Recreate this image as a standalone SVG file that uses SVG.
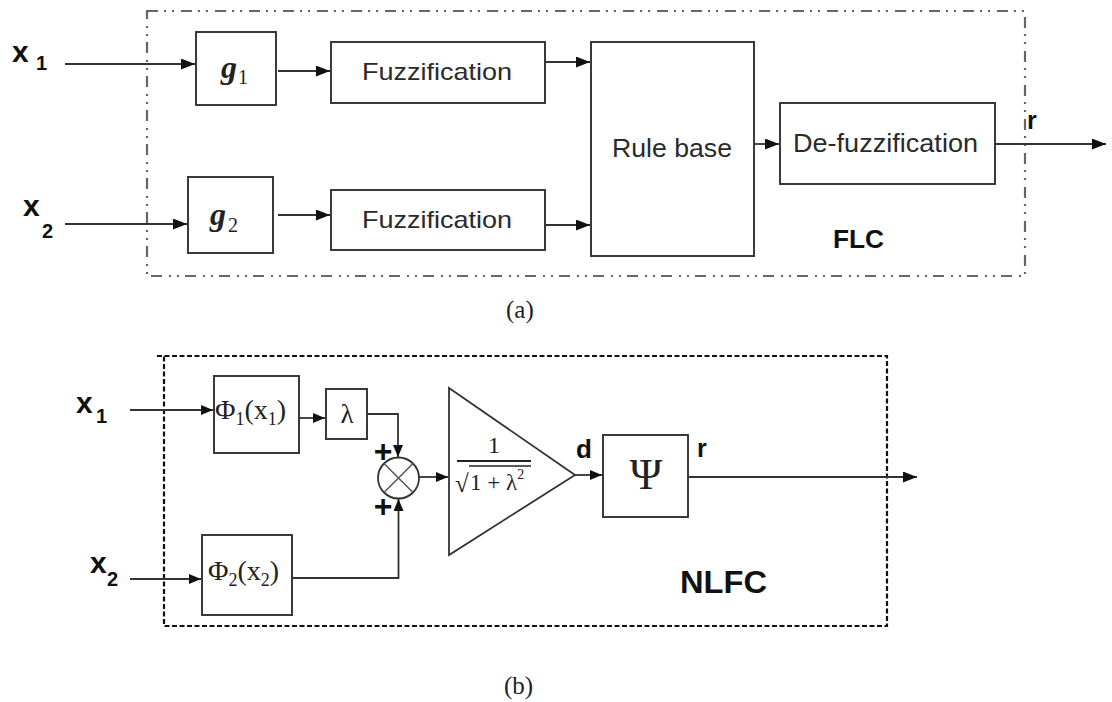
<svg xmlns="http://www.w3.org/2000/svg" width="1112" height="702" viewBox="0 0 1112 702">
<style>
.box{fill:none;stroke:#3a3a3a;stroke-width:2}
.ln{fill:none;stroke:#333;stroke-width:1.8}
.sans{font-family:"Liberation Sans",Arial,sans-serif;fill:#2a2a2a}
.bold{font-family:"Liberation Sans",Arial,sans-serif;font-weight:bold;fill:#111}
.serif{font-family:"Liberation Serif","Times New Roman",serif;fill:#222}
</style>
<defs>
<marker id="ah" markerUnits="userSpaceOnUse" markerWidth="14" markerHeight="11" refX="14" refY="5.5" orient="auto">
<path d="M0,0 L14,5.5 L0,11 z" fill="#111"/>
</marker>
<marker id="ahs" markerUnits="userSpaceOnUse" markerWidth="12" markerHeight="10" refX="12" refY="5" orient="auto">
<path d="M0,0 L12,5 L0,10 z" fill="#111"/>
</marker>
</defs>

<!-- (a) frame -->
<g id="frame-a">
<rect x="147" y="11" width="878" height="265" fill="none" stroke="#666" stroke-width="2.2" stroke-dasharray="11 6 2 6 2 7"/>
</g>

<!-- (a) nodes -->
<g id="label-x1a"><text class="bold" x="12" y="62" font-size="30">x</text><text class="bold" x="36" y="70" font-size="20">1</text></g>
<g id="label-x2a"><text class="bold" x="23" y="216" font-size="30">x</text><text class="bold" x="42" y="238" font-size="20">2</text></g>
<g id="g1"><rect class="box" x="196" y="32" width="80" height="73"/><text class="serif" x="221" y="78" font-size="32" font-style="italic" font-weight="bold">g</text><text class="serif" x="238" y="84" font-size="20">1</text></g>
<g id="g2"><rect class="box" x="188" y="177" width="85" height="76"/><text class="serif" x="210" y="225" font-size="32" font-style="italic" font-weight="bold">g</text><text class="serif" x="228" y="232" font-size="20">2</text></g>
<g id="fuzz1"><rect class="box" x="331" y="42" width="214" height="61"/><text class="sans" x="362" y="80" font-size="24" textLength="150" lengthAdjust="spacingAndGlyphs">Fuzzification</text></g>
<g id="fuzz2"><rect class="box" x="331" y="190" width="214" height="60"/><text class="sans" x="362" y="228" font-size="24" textLength="150" lengthAdjust="spacingAndGlyphs">Fuzzification</text></g>
<g id="rulebase"><rect class="box" x="591" y="42" width="163" height="214"/><text class="sans" x="612" y="157" font-size="25" textLength="120" lengthAdjust="spacingAndGlyphs">Rule base</text></g>
<g id="defuzz"><rect class="box" x="780" y="103" width="215" height="81"/><text class="sans" x="793" y="152" font-size="25" textLength="185" lengthAdjust="spacingAndGlyphs">De-fuzzification</text></g>
<g id="label-r-a"><text class="bold" x="1027" y="129" font-size="25">r</text></g>
<g id="label-flc"><text class="bold" x="833" y="248" font-size="25" textLength="51" lengthAdjust="spacingAndGlyphs">FLC</text></g>
<g id="caption-a"><text class="serif" x="506" y="318" font-size="25" fill="#111">(a)</text></g>

<!-- (b) frame -->
<g id="frame-b">
<path d="M157,356 H887 V626 H164 V356" fill="none" stroke="#111" stroke-width="2.2" stroke-dasharray="5 2.5"/>
</g>

<!-- (b) nodes -->
<g id="label-x1b"><text class="bold" x="76" y="413" font-size="30">x</text><text class="bold" x="96" y="423" font-size="20">1</text></g>
<g id="label-x2b"><text class="bold" x="90" y="573" font-size="30">x</text><text class="bold" x="107" y="586" font-size="20">2</text></g>
<g id="phi1"><rect class="box" x="214" y="376" width="85" height="77"/><text class="serif" x="215" y="419" font-size="28">Φ<tspan font-size="18" dy="6">1</tspan><tspan dy="-6">(x</tspan><tspan font-size="18" dy="6">1</tspan><tspan dy="-6">)</tspan></text></g>
<g id="lambda"><rect class="box" x="326" y="389" width="41" height="50"/><text class="serif" x="347" y="423" font-size="27" text-anchor="middle">λ</text></g>
<g id="phi2"><rect class="box" x="202" y="535" width="90" height="80"/><text class="serif" x="208" y="580" font-size="28">Φ<tspan font-size="18" dy="6">2</tspan><tspan dy="-6">(x</tspan><tspan font-size="18" dy="6">2</tspan><tspan dy="-6">)</tspan></text></g>
<g id="multiplier"><circle cx="398.5" cy="478" r="20.5" fill="none" stroke="#333" stroke-width="1.8"/><path d="M384,463.5 L413,492.5 M413,463.5 L384,492.5" stroke="#555" stroke-width="1.5"/>
<text class="bold" x="383" y="462" font-size="32" text-anchor="middle">+</text><text class="bold" x="383" y="517" font-size="32" text-anchor="middle">+</text></g>
<g id="gain"><path d="M449,388 L575,475 L449,555 Z" fill="none" stroke="#333" stroke-width="1.8"/>
<text class="serif" x="494" y="453" font-size="24" text-anchor="middle">1</text>
<line x1="457" y1="461" x2="531" y2="461" stroke="#222" stroke-width="1.8"/>
<text class="serif" x="455" y="492" font-size="25">√</text>
<line x1="469" y1="466" x2="531" y2="466" stroke="#222" stroke-width="1.3"/>
<text class="serif" x="470" y="490" font-size="23">1 + λ<tspan font-size="14" dy="-11">2</tspan></text></g>
<g id="label-d"><text class="bold" x="576" y="458" font-size="26">d</text></g>
<g id="psi"><rect class="box" x="603" y="435" width="85" height="82"/><text class="serif" x="646" y="489" font-size="44" text-anchor="middle">Ψ</text></g>
<g id="label-r-b"><text class="bold" x="697" y="457" font-size="25">r</text></g>
<g id="label-nlfc"><text class="bold" x="680" y="593" font-size="31" textLength="87" lengthAdjust="spacingAndGlyphs">NLFC</text></g>
<g id="caption-b"><text class="serif" x="504" y="694" font-size="25" fill="#111">(b)</text></g>

<!-- connectors -->
<g id="connectors">
<line class="ln" x1="65" y1="64" x2="195" y2="64" marker-end="url(#ah)"/>
<line class="ln" x1="278" y1="71" x2="330" y2="71" marker-end="url(#ah)"/>
<line class="ln" x1="65" y1="224" x2="187" y2="224" marker-end="url(#ah)"/>
<line class="ln" x1="278" y1="215" x2="330" y2="215" marker-end="url(#ah)"/>
<line class="ln" x1="545" y1="62" x2="590" y2="62" marker-end="url(#ah)"/>
<line class="ln" x1="545" y1="225" x2="590" y2="225" marker-end="url(#ah)"/>
<line class="ln" x1="754" y1="144" x2="779" y2="144" marker-end="url(#ah)"/>
<line class="ln" x1="995" y1="144" x2="1106" y2="144" marker-end="url(#ah)"/>

<line class="ln" x1="130" y1="410" x2="213" y2="410" marker-end="url(#ahs)"/>
<line class="ln" x1="299" y1="418" x2="325" y2="418" marker-end="url(#ahs)"/>
<path class="ln" d="M367,414 H398 V457" marker-end="url(#ahs)"/>
<line class="ln" x1="130" y1="579" x2="201" y2="579" marker-end="url(#ahs)"/>
<path class="ln" d="M292,578 H398.5 V499" marker-end="url(#ahs)"/>
<line class="ln" x1="419" y1="477" x2="448" y2="477" marker-end="url(#ahs)"/>
<line class="ln" x1="575" y1="475" x2="602" y2="475" marker-end="url(#ahs)"/>
<line class="ln" x1="688" y1="477" x2="917" y2="477" marker-end="url(#ah)"/>
</g>
</svg>
